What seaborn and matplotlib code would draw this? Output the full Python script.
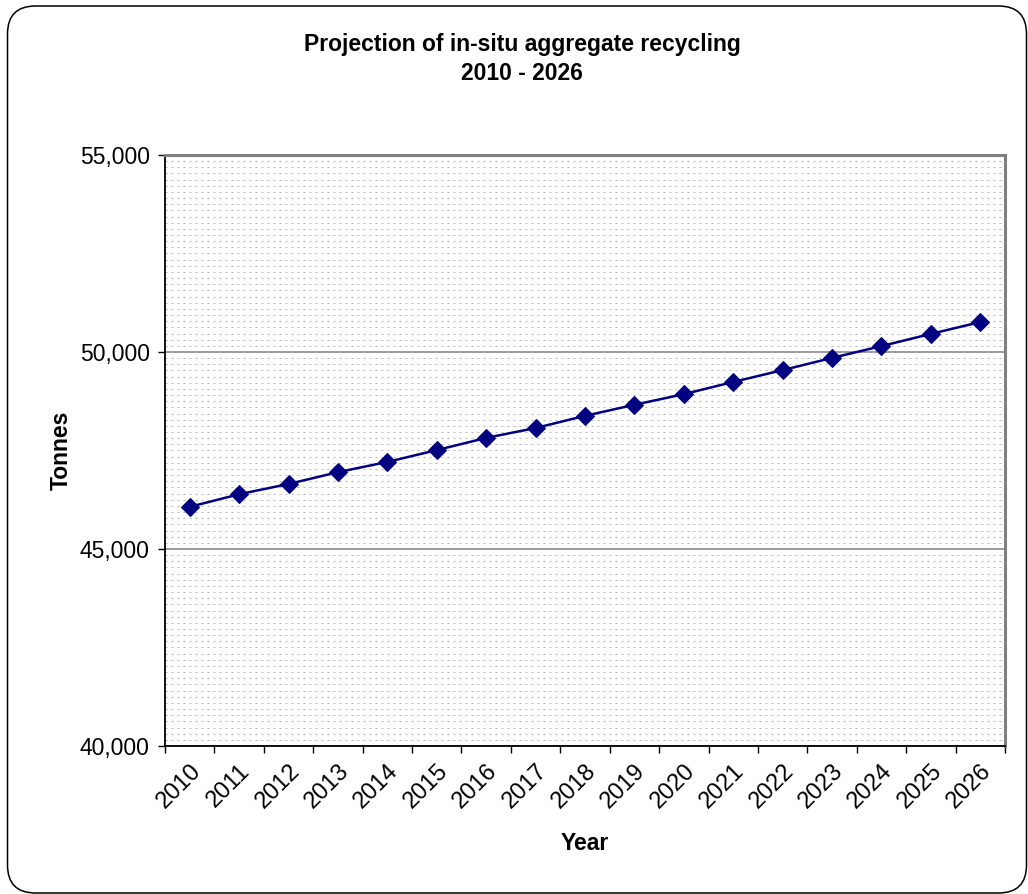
import matplotlib
matplotlib.use("Agg")
import matplotlib.pyplot as plt
from matplotlib.patches import FancyBboxPatch
from matplotlib.ticker import MultipleLocator, FuncFormatter, FixedLocator
from matplotlib.transforms import ScaledTranslation
import seaborn as sns
import pandas as pd

# Projected in-situ aggregate recycling, tonnes per year
years = [2010, 2011, 2012, 2013, 2014, 2015, 2016, 2017, 2018,
         2019, 2020, 2021, 2022, 2023, 2024, 2025, 2026]
tonnes = [46070, 46390, 46650, 46950, 47210, 47510, 47820, 48070, 48380,
          48660, 48930, 49240, 49540, 49850, 50150, 50460, 50760]

df = pd.DataFrame({"pos": range(len(years)), "Year": years, "Tonnes": tonnes})

sns.set_style("white")
plt.rcParams["font.family"] = ["Liberation Sans", "DejaVu Sans"]
plt.rcParams["text.color"] = "black"
plt.rcParams["axes.labelcolor"] = "black"
plt.rcParams["xtick.color"] = "black"
plt.rcParams["ytick.color"] = "black"

fig = plt.figure(figsize=(10.28, 8.94), dpi=100)
ax = fig.add_axes([165 / 1028, 1 - 746 / 894, (1005 - 165) / 1028, (746 - 155) / 894])

sns.lineplot(data=df, x="pos", y="Tonnes", ax=ax, color="#000080",
             marker="D", markersize=9.5, markeredgecolor="#000080",
             linewidth=1.8, zorder=5)

ax.set_xlim(-0.5, len(years) - 0.5)
ax.set_ylim(40000, 55000)

# y axis: major ticks every 5,000 with fine dotted minor grid
ax.yaxis.set_major_locator(MultipleLocator(5000))
ax.yaxis.set_minor_locator(MultipleLocator(5000 / 32))
ax.yaxis.set_major_formatter(FuncFormatter(lambda v, p: f"{int(v):,}"))
ax.grid(True, which="major", axis="y", color="#808080", linewidth=1.1, linestyle="-")
ax.grid(True, which="minor", axis="y", color="#b4b4b4", linewidth=0.72,
        linestyle=(0, (2, 4)))
ax.set_axisbelow(True)

# x axis: labels centred on categories, tick marks on category boundaries
ax.set_xticks(range(len(years)))
ax.set_xticklabels([str(y) for y in years], rotation=45, ha="right",
                   rotation_mode="anchor")
shift = ScaledTranslation(-5 / 100, 0, fig.dpi_scale_trans)
for lbl in ax.get_xticklabels():
    lbl.set_transform(lbl.get_transform() + shift)
ax.xaxis.set_minor_locator(FixedLocator([i - 0.5 for i in range(len(years) + 1)]))
ax.tick_params(axis="x", which="major", length=0, pad=10, labelsize=17)
ax.tick_params(axis="x", which="minor", length=5, width=1, color="black",
               direction="out", bottom=True)
ax.tick_params(axis="y", which="major", length=5, width=1, color="black",
               direction="out", left=True, labelsize=16.5, pad=6)
ax.tick_params(axis="y", which="minor", length=0)

for side in ("left", "bottom"):
    ax.spines[side].set_color("black")
    ax.spines[side].set_linewidth(1.3)
for side in ("top", "right"):
    ax.spines[side].set_color("#808080")
    ax.spines[side].set_linewidth(2.2)

ax.set_xlabel("Year", fontsize=16.5, fontweight="bold", labelpad=14)
ax.set_ylabel("Tonnes", fontsize=16.5, fontweight="bold", labelpad=5)

fig.text(522 / 1028, 1 - 45 / 894, "Projection of in-situ aggregate recycling",
         ha="center", va="center", fontsize=16.5, fontweight="bold")
fig.text(522 / 1028, 1 - 73 / 894, "2010 - 2026",
         ha="center", va="center", fontsize=16.5, fontweight="bold")

# Rounded chart-area border
frame = FancyBboxPatch((7.5, 1), 1019, 887, boxstyle="round,pad=0,rounding_size=28",
                       transform=None, facecolor="none", edgecolor="black",
                       linewidth=1.1)
fig.patches.append(frame)

fig.savefig("out.png", dpi=100)
